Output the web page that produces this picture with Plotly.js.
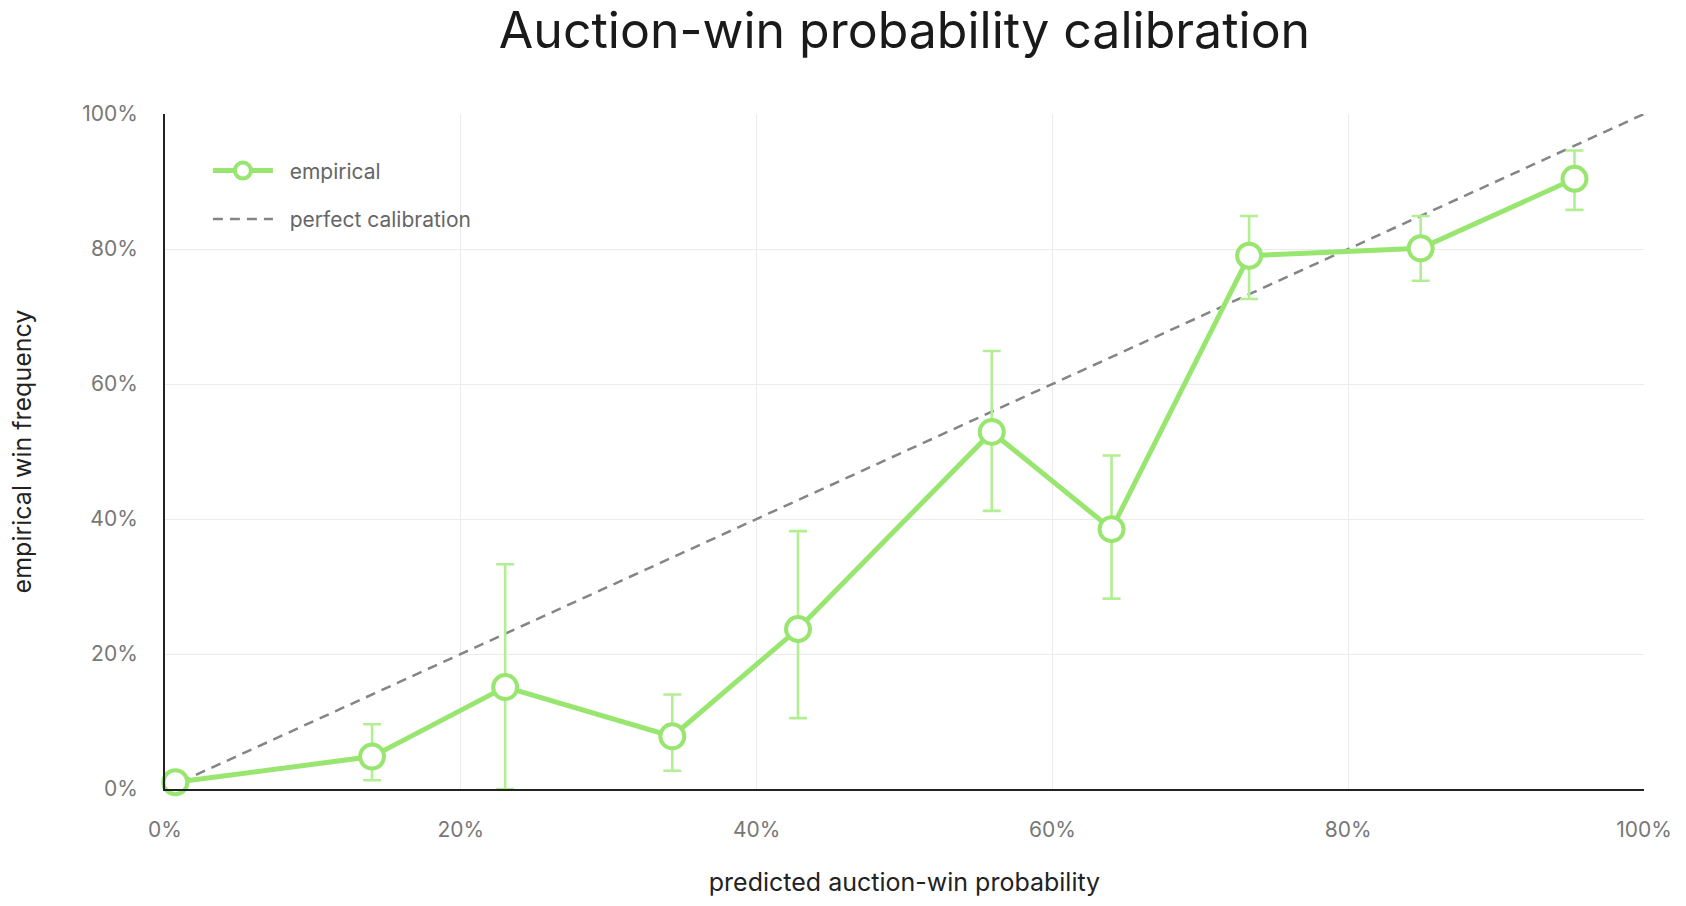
<!DOCTYPE html>
<html>
<head>
<meta charset="utf-8">
<script src="https://cdn.plot.ly/plotly-3.0.1.min.js"></script>
<style>
  html, body { margin: 0; padding: 0; background: #fff; }
  #chart { width: 1686px; height: 906px; }
</style>
</head>
<body>
<div id="chart"></div>
<script>
// binned calibration data
const predicted = [0.007, 0.140, 0.230, 0.343, 0.428, 0.559, 0.640, 0.733, 0.849, 0.953];
const empirical = [0.010, 0.048, 0.151, 0.078, 0.237, 0.529, 0.385, 0.790, 0.801, 0.904];
const ciHigh    = [0.020, 0.096, 0.333, 0.140, 0.382, 0.649, 0.494, 0.849, 0.849, 0.946];
const ciLow     = [0.002, 0.013, 0.000, 0.027, 0.105, 0.412, 0.282, 0.726, 0.753, 0.858];
const diagonal  = [0, 1];

const GREEN = "#98e66f";
const FONT = "Inter, 'Noto Sans', sans-serif";
const PAD = "\u00a0\u00a0"; // little gap between legend symbol and label

const errPlus  = ciHigh.map((v, i) => v - empirical[i]);
const errMinus = empirical.map((v, i) => v - ciLow[i]);

const traces = [
  {
    x: diagonal,
    y: diagonal,
    type: "scatter",
    mode: "lines",
    name: PAD + "perfect calibration",
    legendgroup: "b",
    legendrank: 2,
    line: { color: "#858585", width: 2.5, dash: "10px,7px" },
    hoverinfo: "skip",
    cliponaxis: false
  },
  {
    x: predicted,
    y: empirical,
    type: "scatter",
    mode: "lines+markers",
    name: PAD + "empirical",
    legendgroup: "a",
    legendrank: 1,
    line: { color: GREEN, width: 5 },
    marker: { symbol: "circle", size: 24, color: "#ffffff", line: { color: GREEN, width: 4 } },
    error_y: {
      type: "data",
      symmetric: false,
      array: errPlus,
      arrayminus: errMinus,
      color: "#b2ef92",
      thickness: 2.6,
      width: 9
    },
    cliponaxis: false
  }
];

const axisBase = {
  range: [0, 1],
  dtick: 0.2,
  tickformat: ".0%",
  showgrid: true,
  gridcolor: "#ebebeb",
  gridwidth: 1,
  zeroline: false,
  showline: true,
  linecolor: "#222",
  linewidth: 2,
  ticks: "outside",
  tickcolor: "rgba(0,0,0,0)",
  tickfont: { family: FONT, size: 21, color: "#777" },
  fixedrange: true
};

const layout = {
  width: 1686,
  height: 906,
  paper_bgcolor: "#fff",
  plot_bgcolor: "#fff",
  margin: { l: 165, r: 42, t: 114, b: 117 },
  font: { family: FONT, color: "#222" },
  title: {
    text: "Auction-win probability calibration",
    font: { family: FONT, size: 50, color: "#1a1a1a" },
    x: 0.5,
    xref: "paper",
    xanchor: "center",
    y: 0.966,
    yref: "container",
    yanchor: "middle"
  },
  xaxis: {
    ...axisBase,
    ticklen: 21,
    title: {
      text: "predicted auction-win probability",
      font: { family: FONT, size: 25, color: "#222" },
      standoff: 32
    }
  },
  yaxis: {
    ...axisBase,
    ticklen: 21,
    title: {
      text: "empirical win frequency",
      font: { family: FONT, size: 25, color: "#222" },
      standoff: 43
    }
  },
  showlegend: true,
  legend: {
    x: 0.029,
    y: 0.946,
    xanchor: "left",
    yanchor: "top",
    bgcolor: "rgba(0,0,0,0)",
    font: { family: FONT, size: 21, color: "#666" },
    traceorder: "grouped",
    tracegroupgap: 18,
    itemwidth: 60
  }
};

Plotly.newPlot("chart", traces, layout, { displayModeBar: false, staticPlot: true });
</script>
</body>
</html>
